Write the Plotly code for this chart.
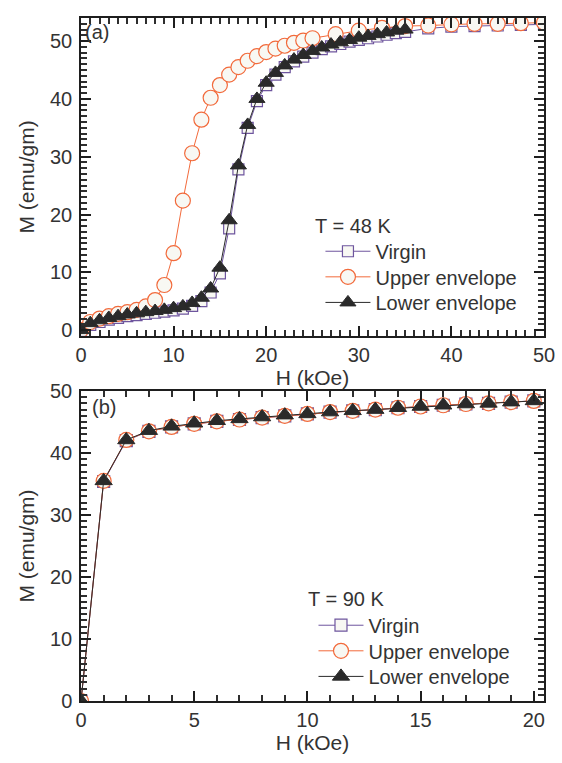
import plotly.graph_objects as go

# ---------------- Panel (a): T = 48 K ----------------
H_a_virgin = list(range(0, 36)) + [37.5, 40, 42.5, 45, 47.5, 50]
M_a_virgin = [0.0, 0.9, 1.4, 1.8, 2.1, 2.4, 2.6, 2.8, 3.0, 3.2, 3.4, 3.7, 4.2, 5.0, 6.5,
              9.8, 17.6, 27.8, 35.0, 39.6, 42.4, 44.2, 45.5, 46.5, 47.3, 48.0, 48.6,
              49.1, 49.5, 49.9, 50.2, 50.5, 50.8, 51.1, 51.4, 51.6,
              52.2, 52.5, 52.6, 52.7, 52.8, 52.9]

H_a_upper = list(range(0, 26)) + [27.5, 30, 32.5, 35, 37.5, 40, 42.5, 45, 47.5, 50]
M_a_upper = [0.0, 1.4, 2.0, 2.4, 2.8, 3.1, 3.5, 4.1, 5.2, 7.8, 13.3, 22.4, 30.6, 36.4,
             40.2, 42.4, 44.2, 45.5, 46.6, 47.4, 48.1, 48.7, 49.2, 49.7, 50.1, 50.5,
             51.2, 51.8, 52.3, 52.6, 52.7, 52.9, 53.0, 53.0, 53.1, 53.2]

H_a_lower = list(range(0, 36))
M_a_lower = [0.0, 1.2, 1.7, 2.1, 2.4, 2.7, 2.9, 3.1, 3.3, 3.5, 3.8, 4.1, 4.7, 5.6, 7.2,
             10.8, 19.0, 28.5, 35.5, 40.0, 42.8, 44.5, 45.8, 46.8, 47.6, 48.3, 48.9,
             49.4, 49.8, 50.2, 50.6, 50.9, 51.2, 51.5, 51.8, 52.0]

# ---------------- Panel (b): T = 90 K ----------------
H_b = list(range(0, 21))
M_b_virgin = [0.0, 35.4, 42.0, 43.5, 44.2, 44.7, 45.1, 45.4, 45.7, 46.0, 46.3, 46.6,
              46.8, 47.0, 47.3, 47.5, 47.7, 47.9, 48.0, 48.2, 48.4]
M_b_upper = [0.0, 35.5, 42.1, 43.5, 44.2, 44.7, 45.1, 45.4, 45.7, 46.0, 46.3, 46.6,
             46.8, 47.0, 47.3, 47.5, 47.7, 47.9, 48.0, 48.2, 48.4]
M_b_lower = [0.0, 35.5, 42.1, 43.6, 44.3, 44.8, 45.2, 45.5, 45.8, 46.1, 46.3, 46.6,
             46.8, 47.0, 47.3, 47.5, 47.7, 47.9, 48.0, 48.2, 48.4]

names = ["Virgin", "Upper envelope", "Lower envelope"]
titles = ["T = 48 K", "T = 90 K"]

PURPLE = "#6E559E"
ORANGE = "#F26A3B"
BLACK = "#2A2A2A"
FILL = "#F8F8F3"
TXT = "#333333"
AX = "#1E1E1E"
FONT = "Liberation Sans, Arial, sans-serif"
FS_LEG = 20

# pixel geometry of the page (plot area spans y = 7 .. 701 px, x = 81 .. 547 px)
def py(p):
    return (701 - p) / 694.0

def px(p):
    return (p - 81) / 466.0

fig = go.Figure()

def add_set(xs, ys_list, xa, ya, legends, sizes):
    styles = [
        dict(symbol="square", color=FILL, line=dict(color=PURPLE, width=1.2), lc=PURPLE),
        dict(symbol="circle", color=FILL, line=dict(color=ORANGE, width=1.2), lc=ORANGE),
        dict(symbol="triangle-up", color=BLACK, line=dict(color=BLACK, width=1), lc=BLACK),
    ]
    for x, y, nm, st, sz, lg in zip(xs, ys_list, names, styles, sizes, legends):
        fig.add_trace(go.Scatter(
            x=x, y=y, name=nm, mode="lines+markers", xaxis=xa, yaxis=ya, legend=lg,
            line=dict(color=st["lc"], width=1),
            marker=dict(symbol=st["symbol"], color=st["color"], size=sz, line=st["line"]),
        ))

add_set([H_a_virgin, H_a_upper, H_a_lower], [M_a_virgin, M_a_upper, M_a_lower],
        "x", "y", ["legend", "legend2", "legend3"], [11, 15, 14])
add_set([H_b, H_b, H_b], [M_b_virgin, M_b_upper, M_b_lower],
        "x2", "y2", ["legend4", "legend5", "legend6"], [12, 15, 15])

axis_common = dict(
    showline=True, linecolor=AX, linewidth=1.5, mirror="allticks",
    ticks="inside", ticklen=10, tickwidth=1.6, tickcolor=AX,
    showgrid=False, zeroline=False,
    tickfont=dict(family=FONT, size=20, color=TXT),
    title_font=dict(family=FONT, size=21, color=TXT),
    minor=dict(dtick=1, ticks="inside", ticklen=6, tickwidth=2, tickcolor="#2E2E2E"),
)

XA = [0, 50]
YA = [-1, 54]
XB = [0, 20.45]
YB = [0, 50]
DOM_A = [0.5346, 1.0]
DOM_B = [0, 0.4539]

def leg(xp, yp):
    return dict(x=px(xp), y=py(yp), xanchor="left", yanchor="middle",
                bgcolor="rgba(0,0,0,0)", itemwidth=45, borderwidth=0,
                font=dict(family=FONT, size=FS_LEG, color=TXT))

fig.update_layout(
    width=562, height=763,
    margin=dict(l=81, r=15, t=7, b=62),
    paper_bgcolor="white", plot_bgcolor="white",
    font=dict(family=FONT, size=FS_LEG, color=TXT),
    xaxis=dict(axis_common, domain=[0, 1], anchor="y", range=XA, dtick=10, tick0=0,
               title=dict(text="H (kOe)", standoff=0)),
    yaxis=dict(axis_common, domain=DOM_A, anchor="x", range=YA, dtick=10, tick0=0,
               ticklabelstandoff=3, title=dict(text="M (emu/gm)", standoff=10)),
    xaxis2=dict(axis_common, domain=[0, 1], anchor="y2", range=XB, dtick=5, tick0=0,
                title=dict(text="H (kOe)", standoff=2)),
    yaxis2=dict(axis_common, domain=DOM_B, anchor="x2", range=YB, dtick=10, tick0=0,
                ticklabelstandoff=3, title=dict(text="M (emu/gm)", standoff=10)),
    legend=leg(322, 244),
    legend2=leg(322, 270),
    legend3=leg(322, 296),
    legend4=leg(315, 624),
    legend5=leg(315, 650),
    legend6=leg(315, 676),
    showlegend=True,
    annotations=[
        dict(text=titles[0], xref="paper", yref="paper", x=px(314), y=py(218),
             xanchor="left", yanchor="middle", showarrow=False,
             font=dict(family=FONT, size=FS_LEG, color=TXT)),
        dict(text=titles[1], xref="paper", yref="paper", x=px(307), y=py(597),
             xanchor="left", yanchor="middle", showarrow=False,
             font=dict(family=FONT, size=FS_LEG, color=TXT)),
        dict(text="(a)", xref="x domain", yref="y domain", x=0.005, y=0.997,
             xanchor="left", yanchor="top", showarrow=False,
             font=dict(family=FONT, size=20, color=TXT)),
        dict(text="(b)", xref="x2 domain", yref="y2 domain", x=0.02, y=0.99,
             xanchor="left", yanchor="top", showarrow=False,
             font=dict(family=FONT, size=20, color=TXT)),
    ],
)

fig.write_html("out.html")
